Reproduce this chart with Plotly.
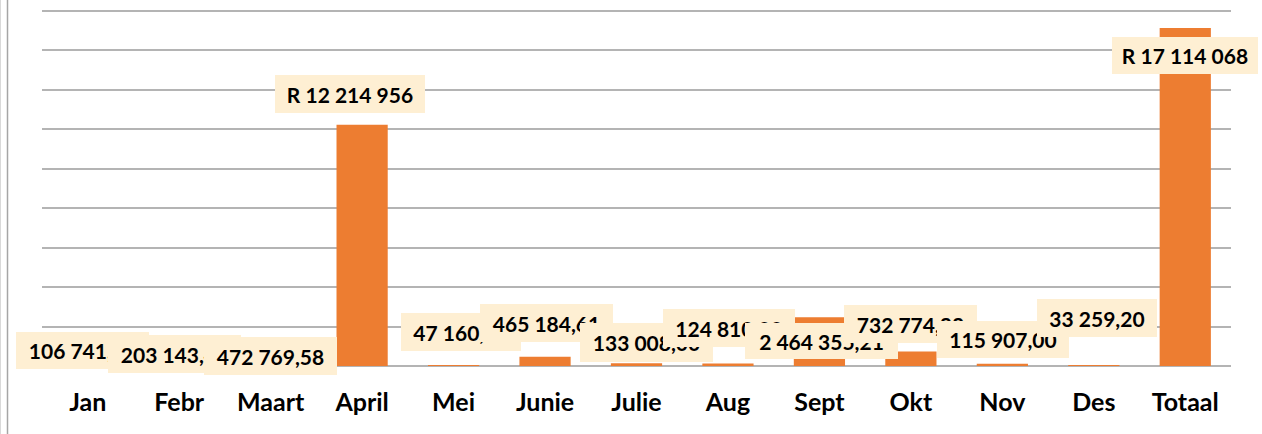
import plotly.graph_objects as go

# ---- data ----
categories = ["Jan", "Febr", "Maart", "April", "Mei", "Junie", "Julie",
              "Aug", "Sept", "Okt", "Nov", "Des", "Totaal"]
values = [106741.25, 203143.40, 472769.58, 12214955.80, 47160.00, 465184.61,
          133008.00, 124810.00, 2464355.21, 732774.22, 115907.00, 33259.20,
          17114068.00]
rand_prefix = [False, False, False, True, False, False, False,
               False, False, False, False, False, True]

# ---- label styling (pixel offsets / box sizes of the manually placed labels) ----
lab_xshift = [-5, -5, 0, -12, 7, 1, 10, 1.5, 1.6, 0, 1, 3, 0]
lab_yshift = [13.4, 8, 0.6, 30.4, 33, 34.3, 20.9, 35.5, -23.2, 27.5, 24.2, 47.3, -27]
lab_width = [133, 133, 133, 150, 120, 133, 133, 132, 153, 133, 132, 120, 146]
lab_height = [37, 38, 38, 38, 38, 38, 39, 38, 36, 38, 37, 38, 37]


def fmt(v, rand):
    if rand:
        s = f"{round(v):,}".replace(",", " ")
        return "R " + s
    s = f"{v:,.2f}"
    ip, dp = s.split(".")
    return ip.replace(",", " ") + "," + dp


FONT = "Lato"
BAR = "#ED7D31"
GRID = "#B4B4B4"
LABBG = "#FEEFD3"

fig = go.Figure()
fig.add_trace(go.Bar(x=categories, y=values, marker=dict(color=BAR, line=dict(width=0)),
                     hoverinfo="skip"))

for i, (c, v) in enumerate(zip(categories, values)):
    fig.add_annotation(
        x=c, y=v, xref="x", yref="y",
        text=fmt(v, rand_prefix[i]),
        showarrow=False,
        xshift=lab_xshift[i], yshift=lab_yshift[i],
        width=lab_width[i], height=lab_height[i],
        align="center", valign="middle",
        bgcolor=LABBG, borderpad=0, borderwidth=0,
        font=dict(family=FONT, size=21, color="#000000", weight=700),
    )

# left frame lines of the chart area
PW = 1262 - 42 - 31
fig.add_shape(type="line", xref="paper", yref="paper", x0=-34.5 / PW, x1=-34.5 / PW,
              y0=-1, y1=1.2, line=dict(color="#A6A6A6", width=1.5))
fig.add_shape(type="line", xref="paper", yref="paper", x0=-41.5 / PW, x1=-41.5 / PW,
              y0=-1, y1=1.2, line=dict(color="#D9D9D9", width=1))

fig.update_layout(
    width=1262, height=434,
    margin=dict(l=42, r=31, t=6, b=68, pad=0),
    paper_bgcolor="white", plot_bgcolor="white",
    showlegend=False, bargap=0.44,
    xaxis=dict(range=[-0.5, len(categories) - 0.5], showgrid=False, showline=False,
               ticks="",
               tickfont=dict(family=FONT, size=25, color="#000000", weight=700),
               ticklabelstandoff=19),
    yaxis=dict(range=[0, 18228000], tick0=0, dtick=2000000, showticklabels=False,
               showgrid=True, gridcolor=GRID, gridwidth=1.5,
               zeroline=True, zerolinecolor=GRID, zerolinewidth=1.5,
               showline=False, ticks=""),
)

fig.write_html("out.html", config={"displayModeBar": False},
               post_script="document.body.style.margin='0px';document.body.style.overflow='hidden';")
